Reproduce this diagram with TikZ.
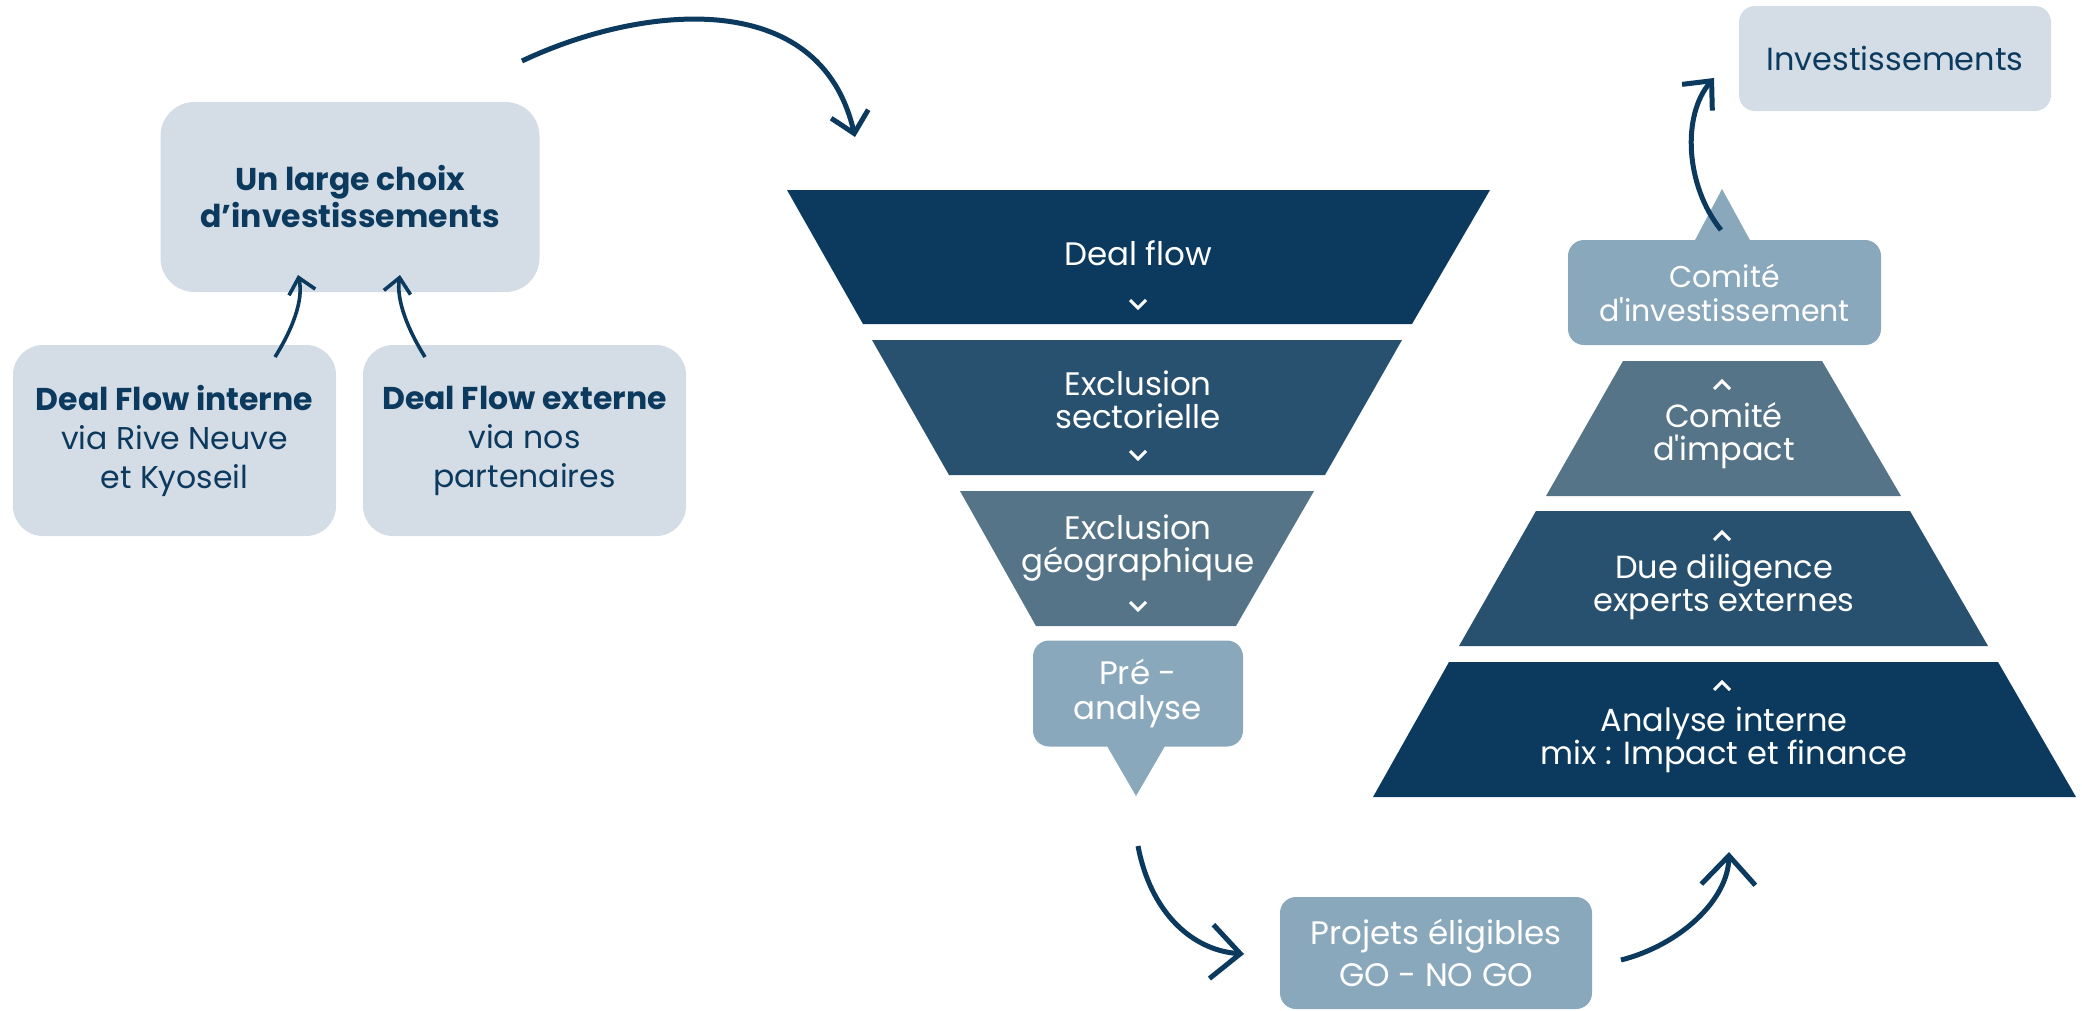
\documentclass[tikz,border=0pt]{standalone}
\usepackage{fontspec}
\setmainfont{Poppins}
\newfontfamily\pyrfont{Poppins}[Ligatures=TeXOff]
\usetikzlibrary{arrows.meta}
\definecolor{navyA}{HTML}{0B3A5E}
\definecolor{navyB}{HTML}{28506F}
\definecolor{navyC}{HTML}{557488}
\definecolor{navyD}{HTML}{8AA8BC}
\definecolor{paleC}{HTML}{D4DDE5}
\tikzset{
  palebox/.style={fill=paleC, rounded corners=34pt, text=navyA, align=center, inner sep=0pt},
  lightbox/.style={fill=navyD, rounded corners=16pt, text=white, align=center, inner sep=0pt},
  ftext/.style={text=white, align=center, font=\fontsize{32.5}{33}\selectfont},
  ptext/.style={text=white, align=center, font=\pyrfont\fontsize{32}{33}\selectfont},
  flowarrow/.style={draw=navyA, line width=5pt},
  chev/.style={draw=white, line width=3pt, line join=miter},
}
\begin{document}
\begin{tikzpicture}[x=1pt,y=-1pt]
\path[use as bounding box] (0,0) rectangle (2082,1010);

% ---------- left boxes ----------
\node[palebox, minimum width=379pt, minimum height=190pt, font=\bfseries\fontsize{31.5}{37}\selectfont] (choix) at (350,197) {Un large choix\\d’investissements};
\node[palebox, minimum width=323pt, minimum height=191pt, rounded corners=30pt, font=\fontsize{31.5}{39}\selectfont] (dfi) at (174.5,440.5) {\textbf{Deal Flow interne}\\via Rive Neuve\\et Kyoseil};
\node[palebox, minimum width=323pt, minimum height=191pt, rounded corners=30pt, font=\fontsize{31.5}{39}\selectfont] (dfe) at (524.5,440.5) {\textbf{Deal Flow externe}\\via nos\\partenaires};

% ---------- funnel ----------
\fill[navyA] (787,190) -- (1490,190) -- (1412,324) -- (863,324) -- cycle;
\fill[navyB] (872,340) -- (1402,340) -- (1325,475) -- (949,475) -- cycle;
\fill[navyC] (960,491) -- (1314,491) -- (1236,626) -- (1036,626) -- cycle;
\node[ftext] (f1) at (1138,253) {Deal flow};
\node[ftext] (f2) at (1138,400) {Exclusion\\sectorielle};
\node[ftext] (f3) at (1138,548) {Exclusion\\géographique};
\draw[chev] (1130,300) -- (1138,308) -- (1146,300);
\draw[chev] (1130,451) -- (1138,459) -- (1146,451);
\draw[chev] (1130,602) -- (1138,610) -- (1146,602);

% Pré-analyse callout
\fill[navyD] (1107,746) -- (1165,746) -- (1136,796) -- cycle;
\node[lightbox, minimum width=210pt, minimum height=106pt, font=\fontsize{32.5}{35}\selectfont] (pre) at (1138,693.5) {Pré -\\analyse};

% ---------- pyramid ----------
\fill[navyD] (1694,242) -- (1751,242) -- (1722,189) -- cycle;
\node[lightbox, minimum width=313pt, minimum height=105pt, font=\pyrfont\fontsize{30}{34}\selectfont] (ci) at (1724.5,292.5) {Comité\\d'investissement};
\fill[navyC] (1623,361) -- (1822,361) -- (1901,496) -- (1546,496) -- cycle;
\fill[navyB] (1536,511) -- (1910,511) -- (1988,646) -- (1459,646) -- cycle;
\fill[navyA] (1449,662) -- (1998,662) -- (2076,797) -- (1373,797) -- cycle;
\node[ptext] (p1) at (1724,436) {Comité\\d'impact};
\node[ptext] (p2) at (1724,587) {Due diligence\\experts externes};
\node[ptext] (p3) at (1724,740) {Analyse interne\\mix : Impact et finance};
\draw[chev] (1714,389) -- (1722,381) -- (1730,389);
\draw[chev] (1714,540) -- (1722,532) -- (1730,540);
\draw[chev] (1714,690) -- (1722,682) -- (1730,690);

% Investissements
\node[palebox, minimum width=312pt, minimum height=105pt, rounded corners=16pt, font=\fontsize{32}{33}\selectfont] (inv) at (1895,58.5) {Investissements};

% Projets éligibles
\node[lightbox, minimum width=312pt, minimum height=112pt, font=\fontsize{32.5}{42}\selectfont] (proj) at (1436,953) {Projets éligibles\\GO - NO GO};

% ---------- connectors ----------
\coordinate (a1s) at (522,61);
\coordinate (a1e) at (855,137);
\draw[flowarrow, -{Straight Barb[length=20pt,width=38pt]}] (a1s) .. controls (640,5) and (820,-15) .. (a1e);

\coordinate (a2s) at (275,357);
\coordinate (a2e) at (298,275);
\draw[flowarrow, line width=3.6pt, -{Straight Barb[length=15pt,width=27pt]}] (a2s) .. controls (292,330) and (304,300) .. (a2e);
\coordinate (a3s) at (425,357);
\coordinate (a3e) at (400,275);
\draw[flowarrow, line width=3.6pt, -{Straight Barb[length=15pt,width=27pt]}] (a3s) .. controls (408,330) and (396,300) .. (a3e);

\coordinate (a4s) at (1138,846);
\coordinate (a4e) at (1244,954);
\draw[flowarrow, -{Straight Barb[length=29pt,width=54pt]}] (a4s) .. controls (1150,910) and (1190,950) .. (a4e);

\coordinate (a5s) at (1621,960);
\coordinate (a5e) at (1729,852);
\draw[flowarrow, -{Straight Barb[length=29pt,width=54pt]}] (a5s) .. controls (1680,945) and (1728,900) .. (a5e);

\coordinate (a6s) at (1721,230);
\coordinate (a6e) at (1714,78);
\draw[flowarrow, -{Straight Barb[length=22pt,width=40pt]}] (a6s) .. controls (1685,185) and (1682,115) .. (a6e);
\end{tikzpicture}
\end{document}
